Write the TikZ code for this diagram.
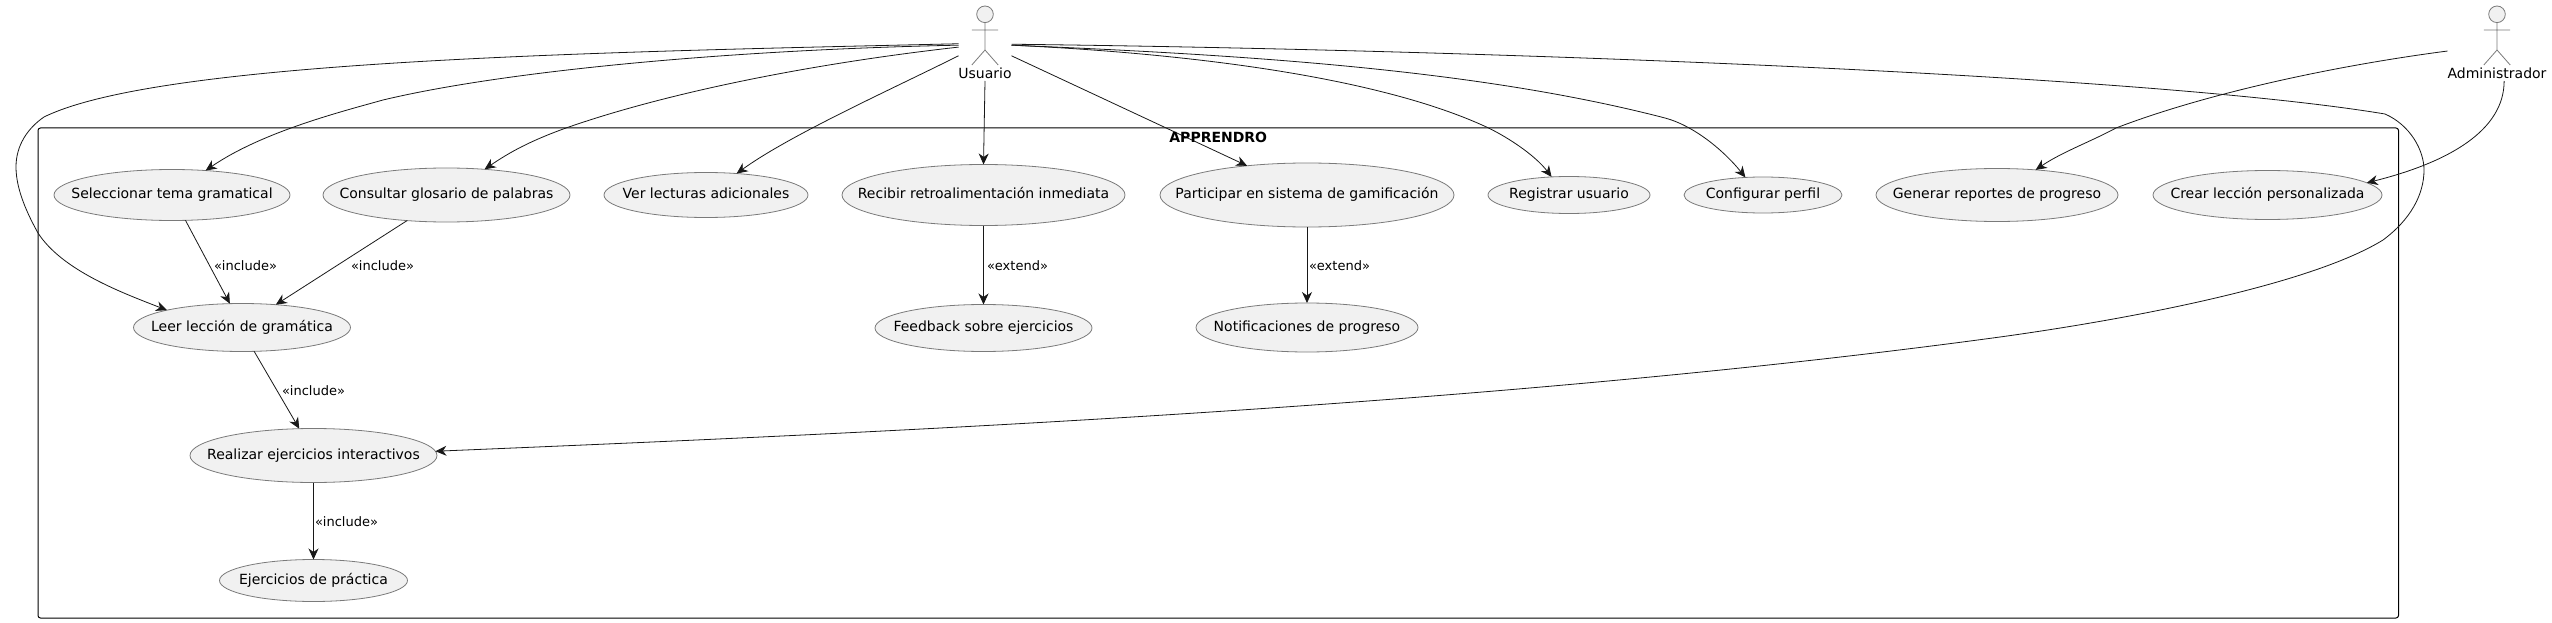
\documentclass[tikz,border=0pt]{standalone}
\usepackage{fontspec}
\setmainfont{DejaVu Sans}
\definecolor{umlfill}{HTML}{F1F1F1}
\definecolor{umlline}{HTML}{181818}
\definecolor{umlstroke}{HTML}{7A7A7A}
\usetikzlibrary{shapes.geometric, arrows.meta, positioning}
\newcommand{\uclabel}[1]{\makebox[0pt]{#1}}

\begin{document}
\begin{tikzpicture}[
    x=1pt, y=-1pt,
    every node/.style={font=\fontsize{14}{16}\selectfont, text=black, inner sep=0pt, outer sep=0pt},
    usecase/.style 2 args={ellipse, draw=umlstroke, line width=0.8pt, fill=umlfill,
                 minimum width=#1pt, minimum height=#2pt, text height=10.6pt, text depth=3pt},
    actorbox/.style={rectangle, minimum height=81pt, minimum width=#1pt},
    actorname/.style={anchor=base},
    relation/.style={anchor=west, font=\fontsize{13}{15}\selectfont},
    arrow/.style={-{Stealth[length=11pt, width=10pt, inset=3.5pt]}, umlline, line width=0.8pt},
    stickman/.pic={
        \draw[umlstroke, line width=0.8pt, fill=umlfill] (0,14.3) circle (8.3pt);
        \draw[umlstroke, line width=0.8pt] (0,22.6) -- (0,50) (-13.2,30) -- (13.2,30)
            (-13.2,65) -- (0,50) -- (13.2,65);
    }
]
    \useasboundingbox (0,0) rectangle (2552,623);

    \node[rectangle, draw=black, line width=1pt, rounded corners=2.5pt,
          minimum width=2360.5pt, minimum height=490pt] (sistema) at (1218.25,373) {};

    % top row
    \node[usecase={236}{51}] (selec) at (172,195) {\uclabel{Seleccionar tema gramatical}};
    \node[usecase={247}{54}, right=33pt of selec]     (glosario) {\uclabel{Consultar glosario de palabras}};
    \node[usecase={204}{45}, right=34pt of glosario]  (lecturas) {\uclabel{Ver lecturas adicionales}};
    \node[usecase={283}{61}, right=34pt of lecturas]  (retro) {\uclabel{Recibir retroalimentación inmediata}};
    \node[usecase={294}{64}, right=35pt of retro]     (gamif) {\uclabel{Participar en sistema de gamificación}};
    \node[usecase={162}{37}, right=34pt of gamif]     (registro) {\uclabel{Registrar usuario}};
    \node[usecase={158}{36}, right=34pt of registro]  (perfil) {\uclabel{Configurar perfil}};
    \node[usecase={242}{53}, right=34pt of perfil]    (reportes) {\uclabel{Generar reportes de progreso}};
    \node[usecase={229}{49}, right=35pt of reportes]  (crear) {\uclabel{Crear lección personalizada}};

    \node[usecase={217}{48}, below=83pt of selec, xshift=70pt]  (leer) {\uclabel{Leer lección de gramática}};
    \node[usecase={247}{54}, below=77pt of leer, xshift=71.5pt] (realizar) {\uclabel{Realizar ejercicios interactivos}};
    \node[usecase={188}{42}, below=77pt of realizar]            (practica) {\uclabel{Ejercicios de práctica}};
    \node[usecase={217}{47}, below=79pt of retro]               (feedback) {\uclabel{Feedback sobre ejercicios}};
    \node[usecase={222}{49}, below=76pt of gamif]               (notif) {\uclabel{Notificaciones de progreso}};

    % actors
    \node[actorbox=53] (usuario) at (985,40.5) {};
    \node[actorbox=99] (admin) at (2497,40.5) {};
    \pic at (usuario.north) {stickman};
    \pic at (admin.north) {stickman};
    \node[actorname] (usuarioname) at (985,78.3) {Usuario};
    \node[actorname] (adminname) at (2497,78.3) {Administrador};

    \draw[arrow] (usuario.187) .. controls (600,52) and (160,60) .. (44,117)
        .. controls (28,128) and (16,145) .. (16,167)
        .. controls (16,190) and (28,215) .. (38,233)
        .. controls (62,270) and (120,292) .. (leer.167);
    \draw[arrow] (usuario.190) .. controls (720,50) and (500,72) .. (383,100)
        .. controls (340,112) and (262,132) .. (selec.36);
    \draw[arrow] (usuario.194) .. controls (800,65) and (660,95) .. (566,128)
        .. controls (530,141) and (510,152) .. (glosario.34);
    \draw[arrow] (usuario.210) .. controls (890,90) and (790,135) .. (lecturas.35);
    \draw[arrow] (usuario.south) -- (retro.north);
    \draw[arrow] (usuario.330) -- (gamif.154.5);
    \draw[arrow] (usuario.350) .. controls (1180,53) and (1370,75) .. (1482,125)
        .. controls (1505,135) and (1535,155) .. (registro.134);
    \draw[arrow] (usuario.350) .. controls (1250,55) and (1480,70) .. (1665,118)
        .. controls (1695,126) and (1725,152) .. (perfil.135);
    \draw[arrow] (usuario.352) .. controls (1500,50) and (2150,75) .. (2385,114)
        .. controls (2410,125) and (2424,150) .. (2424,170)
        .. controls (2424,195) and (2410,220) .. (2383,240)
        .. controls (2310,285) and (2130,319) .. (2000,337)
        .. controls (1500,405) and (900,432) .. (realizar.2.3);
    \draw[arrow] (admin.192) .. controls (2340,65) and (2210,92) .. (2116,128)
        .. controls (2090,142) and (2062,152) .. (reportes.33.7);
    \draw[arrow] (admin.280) .. controls (2504,130) and (2450,162) .. (crear.7);

    \draw[arrow] (selec.298.5) -- (leer.117.3);
    \draw[arrow] (glosario.213.9) -- (leer.34);
    \draw[arrow] (leer.297.5) -- (realizar.118);
    \draw[arrow] (realizar.south) -- (practica.north);
    \draw[arrow] (retro.south) -- (feedback.north);
    \draw[arrow] (gamif.south) -- (notif.north);

    \node[relation] (incleer) at (214,266) {«include»};
    \node[relation] (incglos) at (351,266) {«include»};
    \node[relation] (increal) at (282,391) {«include»};
    \node[relation] (incprac) at (315,522) {«include»};
    \node[relation] (extfeed) at (987,266) {«extend»};
    \node[relation] (extnotif) at (1309,266) {«extend»};

    \node[below=4.5pt of sistema.north, font=\fontsize{14}{16}\selectfont\bfseries] (titulo) {APPRENDRO};
\end{tikzpicture}
\end{document}
